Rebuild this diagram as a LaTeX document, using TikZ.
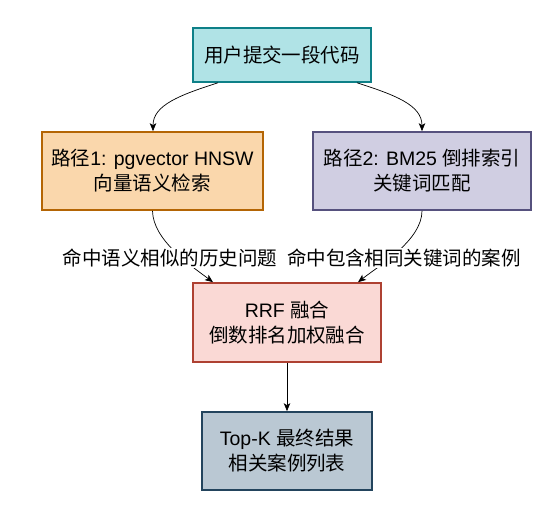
\documentclass[tikz,border=0pt]{standalone}
\usepackage{fontspec}
\setmainfont{Liberation Sans}
\newfontfamily\cjk{Noto Sans CJK SC}
\usetikzlibrary{arrows.meta}
\begin{document}
\begin{tikzpicture}[x=1pt,y=1pt,
  box/.style={draw, line width=1.6pt, align=center, inner sep=0pt,
    font=\fontsize{19.5}{25}\selectfont},
  edge/.style={line width=0.7pt, -{Stealth[length=8pt,width=6.5pt,inset=2pt]}},
  lbl/.style={fill=white, inner sep=1pt, font=\fontsize{19.5}{24}\selectfont}]
\definecolor{c1f}{HTML}{B0E3E6}\definecolor{c1d}{HTML}{0E8088}
\definecolor{c2f}{HTML}{FAD7AC}\definecolor{c2d}{HTML}{B46504}
\definecolor{c3f}{HTML}{D0CEE2}\definecolor{c3d}{HTML}{56517E}
\definecolor{c4f}{HTML}{FAD9D5}\definecolor{c4d}{HTML}{AE4132}
\definecolor{c5f}{HTML}{BAC8D3}\definecolor{c5d}{HTML}{23445D}
\useasboundingbox[fill=white] (0,0) rectangle (558,516);
\node[box, fill=c1f, draw=c1d, minimum width=178pt, minimum height=54pt] (top) at (282,461) {\cjk 用户提交一段代码};
\node[box, fill=c2f, draw=c2d, minimum width=221pt, minimum height=78pt] (left) at (152.5,345) {{\cjk 路径}1: pgvector HNSW\\{\cjk 向量语义检索}};
\node[box, fill=c3f, draw=c3d, minimum width=218pt, minimum height=78pt] (right) at (422,345) {{\cjk 路径}2: BM25 {\cjk 倒排索引}\\{\cjk 关键词匹配}};
\node[box, fill=c4f, draw=c4d, minimum width=188pt, minimum height=79pt] (rrf) at (287,193.5) {RRF {\cjk 融合}\\{\cjk 倒数排名加权融合}};
\node[box, fill=c5f, draw=c5d, minimum width=170pt, minimum height=78pt] (res) at (287,65) {Top-K {\cjk 最终结果}\\{\cjk 相关案例列表}};
\coordinate (a1) at ([xshift=-64pt]top.south);
\coordinate (a2) at ([xshift=75pt]top.south);
\coordinate (b1) at ([xshift=0.5pt]left.north);
\coordinate (b2) at (right.north);
\draw[edge] (a1) .. controls (180,421) and (153,411) .. (b1);
\draw[edge] (a2) .. controls (395,421) and (422,411) .. (b2);
\coordinate (c1) at ([xshift=-74pt]rrf.north);
\coordinate (c2) at ([xshift=71pt]rrf.north);
\draw[edge] (left.south) .. controls (153,276) and (190,251) .. (c1);
\draw[edge] (right.south) .. controls (422,276) and (380,251) .. (c2);
\node[lbl] (l1) at (170,258) {\cjk 命中语义相似的历史问题};
\node[lbl] (l2) at (404,258) {\cjk 命中包含相同关键词的案例};
\draw[edge] (rrf.south) -- (res.north);
\end{tikzpicture}
\end{document}
